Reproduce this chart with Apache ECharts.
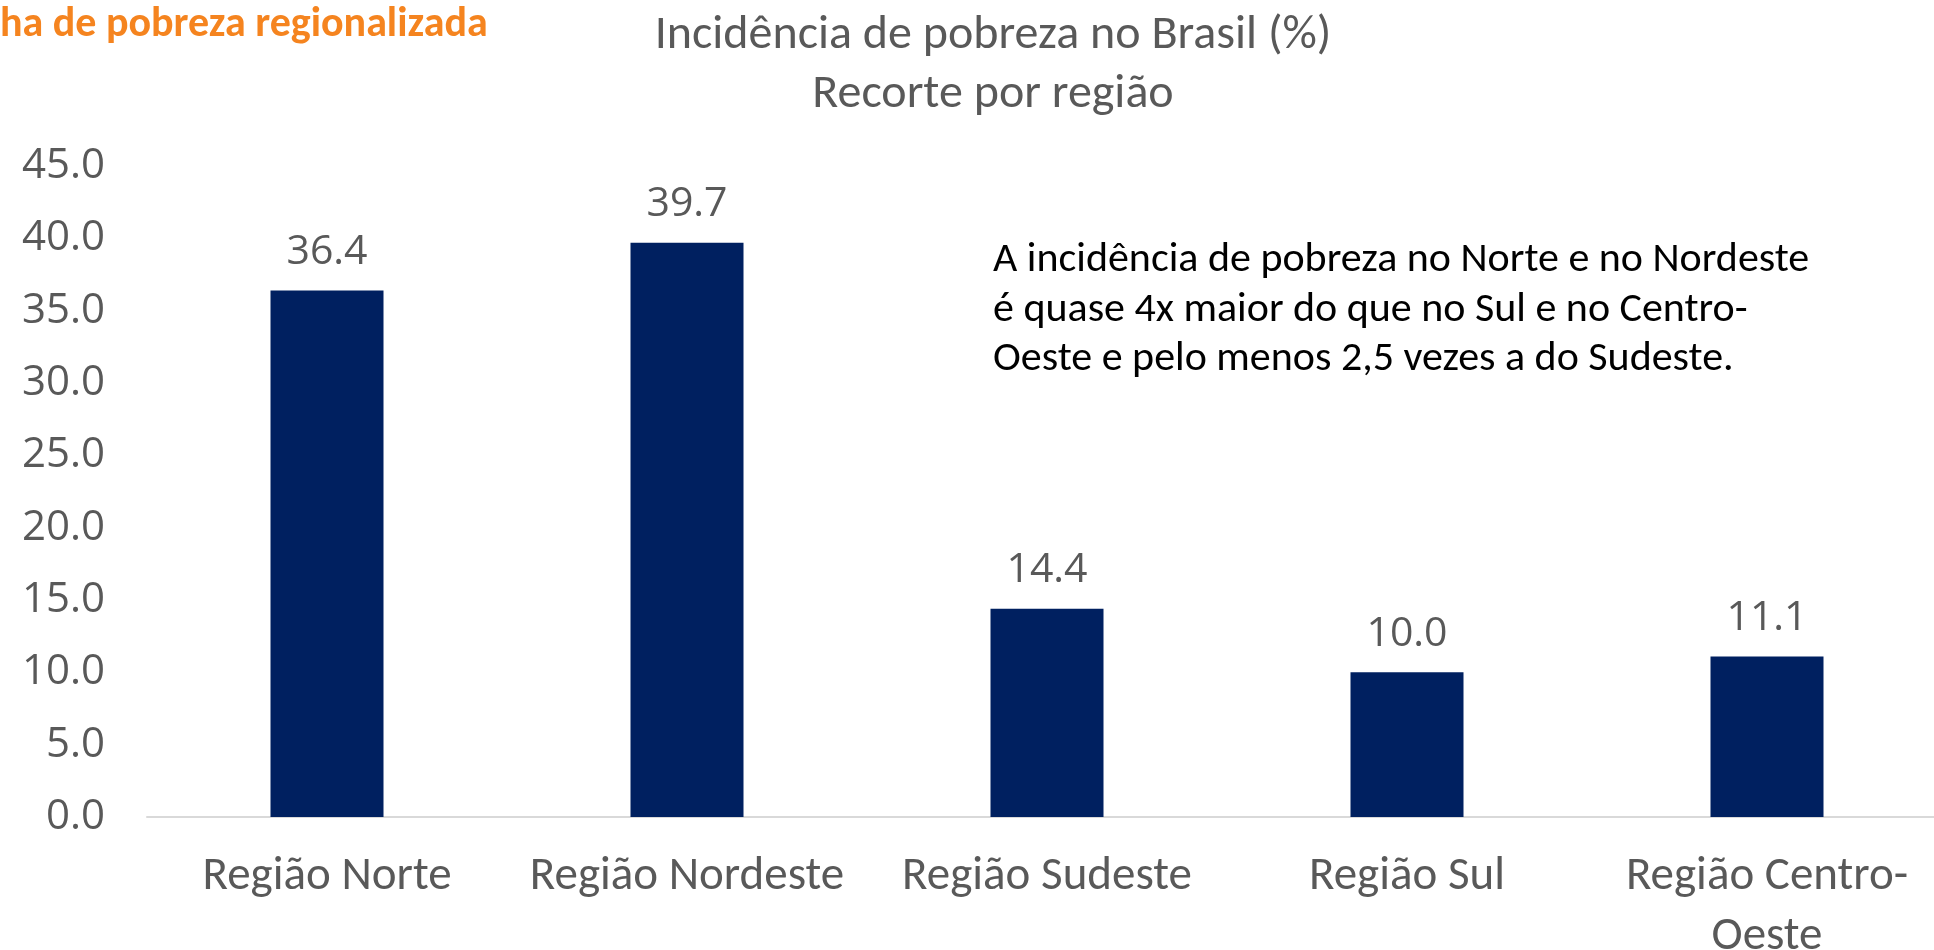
<!DOCTYPE html>
<html>
<head>
<meta charset="utf-8">
<script src="https://cdn.jsdelivr.net/npm/echarts@6/dist/echarts.min.js"></script>
<style>
  html, body { margin: 0; padding: 0; background: #ffffff; }
  #chart { width: 1934px; height: 950px; }
</style>
</head>
<body>
<div id="chart"></div>
<script>
// ---- Data ----
const categories = ['Região Norte', 'Região Nordeste', 'Região Sudeste', 'Região Sul', 'Região Centro-\nOeste'];
const povertyIncidence = [36.4, 39.7, 14.4, 10.0, 11.1];
const yTicks = { min: 0, max: 45, interval: 5 };
const titleLines = ['Incidência de pobreza no Brasil (%)', 'Recorte por região'];
const cornerText = 'ha de pobreza regionalizada';
const noteLines = [
  'A incidência de pobreza no Norte e no Nordeste',
  'é quase 4x maior do que no Sul e no Centro-',
  'Oeste e pelo menos 2,5 vezes a do Sudeste.'
];

const CAL = 'Calibri, Carlito, Lato, sans-serif';
const NUM = '"Open Sans", "Noto Sans", sans-serif';
const GREY = '#595959';

const chart = echarts.init(document.getElementById('chart'), null, { renderer: 'canvas' });
chart.setOption({
  backgroundColor: '#ffffff',
  animation: false,
  title: {
    text: titleLines.join('\n'),
    left: 988,
    top: 1,
    textAlign: 'center',
    textStyle: { fontFamily: CAL, fontSize: 48, fontWeight: 'normal', color: GREY, lineHeight: 59 }
  },
  grid: { left: 147, right: -13, top: 166, bottom: 133, containLabel: false, outerBoundsMode: 'none' },
  xAxis: {
    type: 'category',
    data: categories,
    axisLine: { show: true, lineStyle: { color: '#D9D9D9', width: 2 } },
    axisTick: { show: false },
    axisLabel: { color: GREY, fontFamily: CAL, fontSize: 47, lineHeight: 60, margin: 30, interval: 0 }
  },
  yAxis: {
    type: 'value',
    min: yTicks.min, max: yTicks.max, interval: yTicks.interval,
    axisLine: { show: false },
    axisTick: { show: false },
    splitLine: { show: false },
    axisLabel: { color: GREY, fontFamily: NUM, fontSize: 42, margin: 42, formatter: v => v.toFixed(1) }
  },
  series: [{
    type: 'bar',
    data: povertyIncidence,
    barWidth: 113,
    itemStyle: { color: '#002060' },
    label: {
      show: true, position: 'top', distance: 18,
      color: GREY, fontFamily: NUM, fontSize: 41,
      formatter: p => p.value.toFixed(1)
    }
  }],
  graphic: [
    {
      type: 'text', left: 0, top: 4,
      style: { text: cornerText, fill: '#F5841F', font: 'bold 42px ' + CAL }
    },
    {
      type: 'text', left: 993, top: 236,
      style: { text: noteLines.join('\n'), fill: '#000000', font: '42px ' + CAL, lineHeight: 49.5 }
    }
  ]
});
</script>
</body>
</html>
